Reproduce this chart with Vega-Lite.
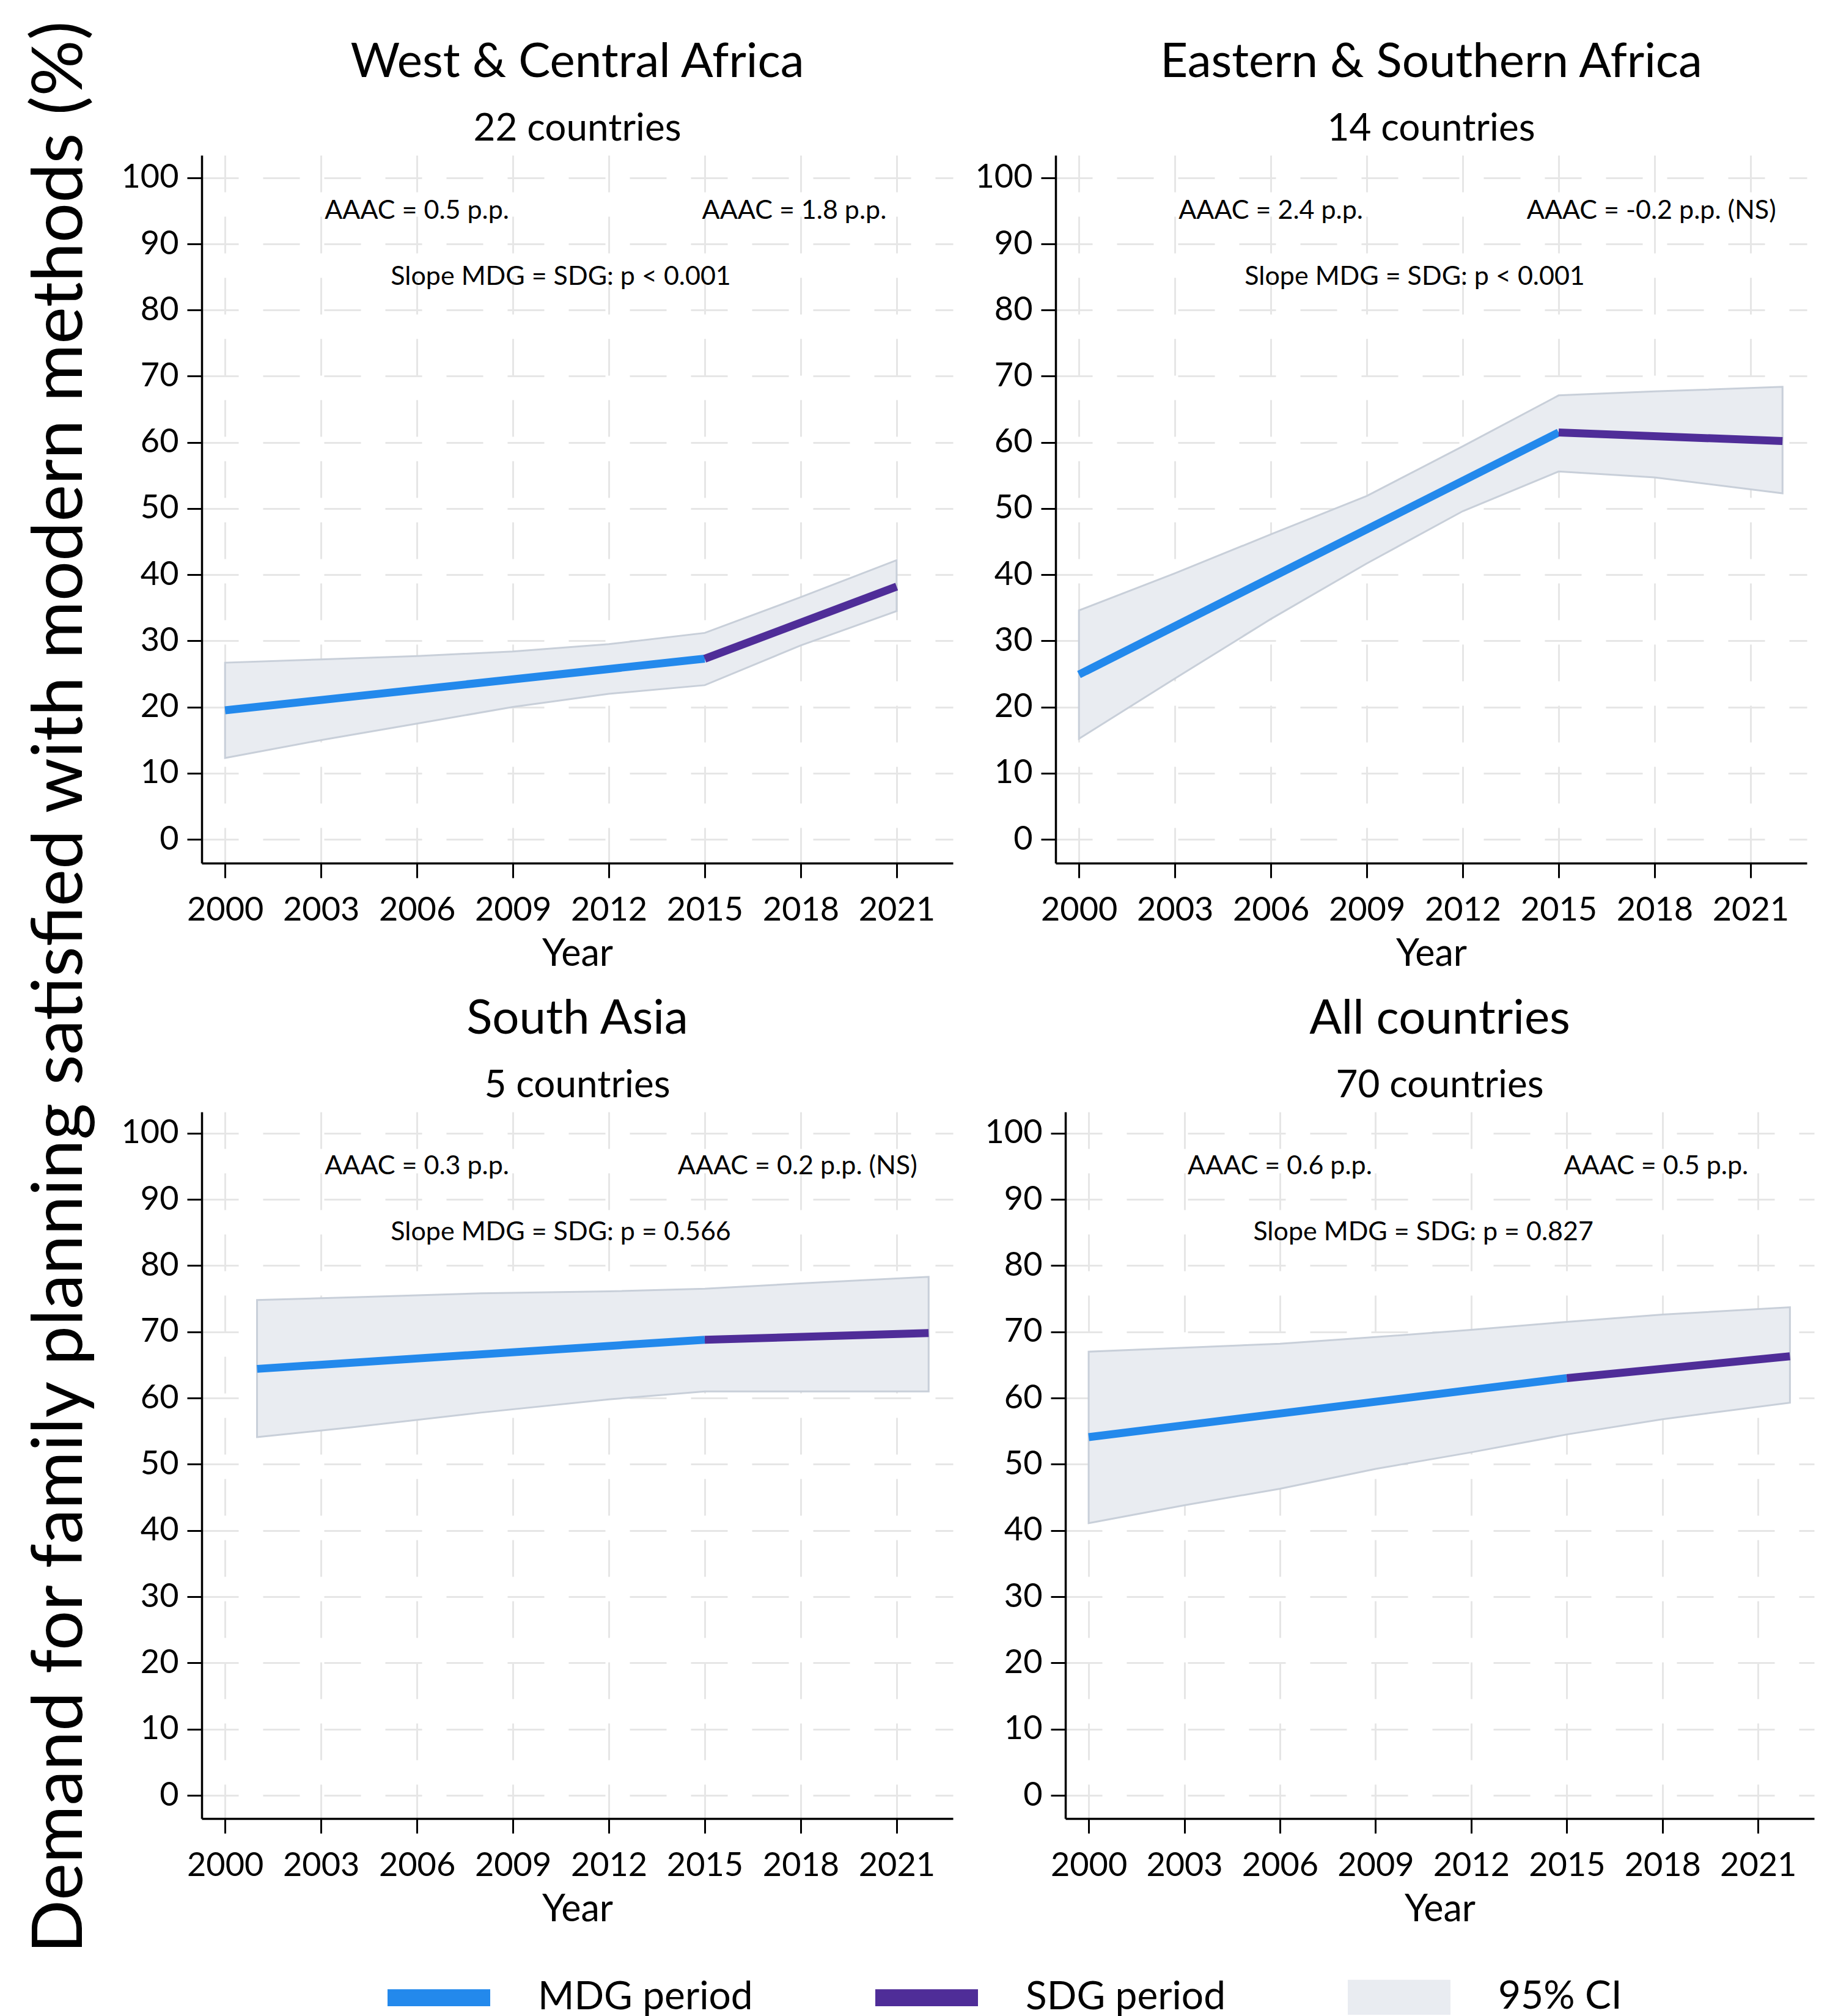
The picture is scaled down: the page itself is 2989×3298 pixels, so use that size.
{
  "$schema": "https://vega.github.io/schema/vega-lite/v6.json",
  "background": "white",
  "padding": {"left": 0, "top": 30, "right": 10, "bottom": 0},
  "datasets": {
    "lines": [
      {"panel": "WCA", "period": "MDG period", "year": 2000, "value": 19.5},
      {"panel": "WCA", "period": "MDG period", "year": 2015, "value": 27.3},
      {"panel": "WCA", "period": "SDG period", "year": 2015, "value": 27.3},
      {"panel": "WCA", "period": "SDG period", "year": 2021, "value": 38.2},
      {"panel": "ESA", "period": "MDG period", "year": 2000, "value": 24.9},
      {"panel": "ESA", "period": "MDG period", "year": 2015, "value": 61.5},
      {"panel": "ESA", "period": "SDG period", "year": 2015, "value": 61.5},
      {"panel": "ESA", "period": "SDG period", "year": 2022, "value": 60.2},
      {"panel": "SA", "period": "MDG period", "year": 2001, "value": 64.4},
      {"panel": "SA", "period": "MDG period", "year": 2015, "value": 68.8},
      {"panel": "SA", "period": "SDG period", "year": 2015, "value": 68.8},
      {"panel": "SA", "period": "SDG period", "year": 2022, "value": 69.8},
      {"panel": "ALL", "period": "MDG period", "year": 2000, "value": 54.1},
      {"panel": "ALL", "period": "MDG period", "year": 2015, "value": 63.0},
      {"panel": "ALL", "period": "SDG period", "year": 2015, "value": 63.0},
      {"panel": "ALL", "period": "SDG period", "year": 2022, "value": 66.3}
    ],
    "ci": [
      {"panel": "WCA", "band": "95% CI", "year": 2000, "lo": 12.3, "hi": 26.7},
      {"panel": "WCA", "band": "95% CI", "year": 2003, "lo": 15.0, "hi": 27.2},
      {"panel": "WCA", "band": "95% CI", "year": 2006, "lo": 17.5, "hi": 27.7},
      {"panel": "WCA", "band": "95% CI", "year": 2009, "lo": 20.0, "hi": 28.4},
      {"panel": "WCA", "band": "95% CI", "year": 2012, "lo": 22.0, "hi": 29.5},
      {"panel": "WCA", "band": "95% CI", "year": 2015, "lo": 23.3, "hi": 31.2},
      {"panel": "WCA", "band": "95% CI", "year": 2018, "lo": 29.3, "hi": 36.6},
      {"panel": "WCA", "band": "95% CI", "year": 2021, "lo": 34.5, "hi": 42.2},
      {"panel": "ESA", "band": "95% CI", "year": 2000, "lo": 15.2, "hi": 34.6},
      {"panel": "ESA", "band": "95% CI", "year": 2003, "lo": 24.3, "hi": 40.2},
      {"panel": "ESA", "band": "95% CI", "year": 2006, "lo": 33.3, "hi": 46.1},
      {"panel": "ESA", "band": "95% CI", "year": 2009, "lo": 41.7, "hi": 51.9},
      {"panel": "ESA", "band": "95% CI", "year": 2012, "lo": 49.6, "hi": 59.4},
      {"panel": "ESA", "band": "95% CI", "year": 2015, "lo": 55.6, "hi": 67.1},
      {"panel": "ESA", "band": "95% CI", "year": 2018, "lo": 54.7, "hi": 67.7},
      {"panel": "ESA", "band": "95% CI", "year": 2022, "lo": 52.3, "hi": 68.4},
      {"panel": "SA", "band": "95% CI", "year": 2001, "lo": 54.1, "hi": 74.8},
      {"panel": "SA", "band": "95% CI", "year": 2004, "lo": 55.6, "hi": 75.2},
      {"panel": "SA", "band": "95% CI", "year": 2008, "lo": 57.8, "hi": 75.8},
      {"panel": "SA", "band": "95% CI", "year": 2012, "lo": 59.8, "hi": 76.1},
      {"panel": "SA", "band": "95% CI", "year": 2015, "lo": 61.0, "hi": 76.5},
      {"panel": "SA", "band": "95% CI", "year": 2018, "lo": 61.0, "hi": 77.3},
      {"panel": "SA", "band": "95% CI", "year": 2022, "lo": 61.0, "hi": 78.3},
      {"panel": "ALL", "band": "95% CI", "year": 2000, "lo": 41.1, "hi": 67.0},
      {"panel": "ALL", "band": "95% CI", "year": 2003, "lo": 43.8, "hi": 67.6},
      {"panel": "ALL", "band": "95% CI", "year": 2006, "lo": 46.3, "hi": 68.2},
      {"panel": "ALL", "band": "95% CI", "year": 2009, "lo": 49.3, "hi": 69.2},
      {"panel": "ALL", "band": "95% CI", "year": 2012, "lo": 51.8, "hi": 70.3},
      {"panel": "ALL", "band": "95% CI", "year": 2015, "lo": 54.5, "hi": 71.5},
      {"panel": "ALL", "band": "95% CI", "year": 2018, "lo": 56.8, "hi": 72.6},
      {"panel": "ALL", "band": "95% CI", "year": 2022, "lo": 59.3, "hi": 73.7}
    ],
    "notes": [
      {"panel": "WCA", "year": 2006, "ny": 95, "label": "AAAC = 0.5 p.p."},
      {"panel": "WCA", "year": 2017.8, "ny": 95, "label": "AAAC = 1.8 p.p."},
      {"panel": "WCA", "year": 2010.5, "ny": 85, "label": "Slope MDG = SDG: p < 0.001"},
      {"panel": "ESA", "year": 2006, "ny": 95, "label": "AAAC = 2.4 p.p."},
      {"panel": "ESA", "year": 2017.9, "ny": 95, "label": "AAAC = -0.2 p.p. (NS)"},
      {"panel": "ESA", "year": 2010.5, "ny": 85, "label": "Slope MDG = SDG: p < 0.001"},
      {"panel": "SA", "year": 2006, "ny": 95, "label": "AAAC = 0.3 p.p."},
      {"panel": "SA", "year": 2017.9, "ny": 95, "label": "AAAC = 0.2 p.p. (NS)"},
      {"panel": "SA", "year": 2010.5, "ny": 85, "label": "Slope MDG = SDG: p = 0.566"},
      {"panel": "ALL", "year": 2006, "ny": 95, "label": "AAAC = 0.6 p.p."},
      {"panel": "ALL", "year": 2017.8, "ny": 95, "label": "AAAC = 0.5 p.p."},
      {"panel": "ALL", "year": 2010.5, "ny": 85, "label": "Slope MDG = SDG: p = 0.827"}
    ],
    "ytitle": [
      {"t": "Demand for family planning satisfied with modern methods (%)"}
    ]
  },
  "spacing": 0,
  "hconcat": [
    {
      "width": 198,
      "height": 2722,
      "data": {"name": "ytitle"},
      "mark": {"type": "text", "angle": 270, "fontSize": 115, "font": "Lato", "color": "#000"},
      "encoding": {"text": {"field": "t", "type": "nominal"}}
    },
    {
      "spacing": 38,
      "vconcat": [
        {
          "spacing": 36,
          "hconcat": [
            {
              "width": 1229, "height": 1158,
              "title": {"text": "West & Central Africa", "subtitle": "22 countries"},
              "layer": [
                {
                  "data": {"name": "ci"},
                  "transform": [{"filter": "datum.panel === 'WCA'"}],
                  "mark": {"type": "area", "stroke": "#c8cfd9", "strokeWidth": 3, "opacity": 1},
                  "encoding": {
                    "x": {"field": "year", "type": "quantitative", "scale": {"domain": [1999.27, 2022.76], "nice": false, "zero": false}, "axis": {"values": [2000, 2003, 2006, 2009, 2012, 2015, 2018, 2021], "format": "d", "title": "Year"}},
                    "y": {"field": "lo", "type": "quantitative", "scale": {"domain": [-3.6, 103.4], "nice": false, "zero": false}, "axis": {"values": [0, 10, 20, 30, 40, 50, 60, 70, 80, 90, 100], "title": null}},
                    "y2": {"field": "hi"},
                    "color": {
                      "field": "band", "type": "nominal",
                      "scale": {"domain": ["MDG period", "SDG period", "95% CI"], "range": ["#2389ec", "#4f2d98", "#e9ecf1"]},
                      "legend": {
                        "title": " ", "titleOrient": "left", "titlePadding": 320, "titleFontSize": 10,
                        "orient": "bottom", "direction": "horizontal",
                        "symbolType": {"expr": "datum.value === '95% CI' ? 'M-1,-0.33H1V0.33H-1Z' : 'M-1,-0.15H1V0.15H-1Z'"},
                        "symbolSize": 27225,
                        "symbolStrokeColor": {"expr": "datum.value === '95% CI' ? '#c8cfd9' : 'transparent'"},
                        "symbolStrokeWidth": 3,
                        "labelFontSize": 64, "labelOffset": 78, "labelColor": "#000", "labelFont": "Lato", "labelLimit": 800,
                        "columnPadding": 195, "offset": -17
                      }
                    }
                  }
                },
                {
                  "data": {"name": "lines"},
                  "transform": [{"filter": "datum.panel === 'WCA'"}],
                  "mark": {"type": "line", "strokeWidth": 13},
                  "encoding": {
                    "x": {"field": "year", "type": "quantitative"},
                    "y": {"field": "value", "type": "quantitative"},
                    "color": {"field": "period", "type": "nominal"}
                  }
                },
                {
                  "data": {"name": "notes"},
                  "transform": [{"filter": "datum.panel === 'WCA'"}],
                  "mark": {"type": "text", "fontSize": 43, "font": "Lato", "color": "#000"},
                  "encoding": {
                    "x": {"field": "year", "type": "quantitative"},
                    "y": {"field": "ny", "type": "quantitative"},
                    "text": {"field": "label", "type": "nominal"}
                  }
                }
              ]
            },
            {
              "width": 1229, "height": 1158,
              "title": {"text": "Eastern & Southern Africa", "subtitle": "14 countries"},
              "layer": [
                {
                  "data": {"name": "ci"},
                  "transform": [{"filter": "datum.panel === 'ESA'"}],
                  "mark": {"type": "area", "stroke": "#c8cfd9", "strokeWidth": 3, "opacity": 1},
                  "encoding": {
                    "x": {"field": "year", "type": "quantitative", "scale": {"domain": [1999.27, 2022.76], "nice": false, "zero": false}, "axis": {"values": [2000, 2003, 2006, 2009, 2012, 2015, 2018, 2021], "format": "d", "title": "Year"}},
                    "y": {"field": "lo", "type": "quantitative", "scale": {"domain": [-3.6, 103.4], "nice": false, "zero": false}, "axis": {"values": [0, 10, 20, 30, 40, 50, 60, 70, 80, 90, 100], "title": null}},
                    "y2": {"field": "hi"},
                    "color": {"field": "band", "type": "nominal"}
                  }
                },
                {
                  "data": {"name": "lines"},
                  "transform": [{"filter": "datum.panel === 'ESA'"}],
                  "mark": {"type": "line", "strokeWidth": 13},
                  "encoding": {
                    "x": {"field": "year", "type": "quantitative"},
                    "y": {"field": "value", "type": "quantitative"},
                    "color": {"field": "period", "type": "nominal"}
                  }
                },
                {
                  "data": {"name": "notes"},
                  "transform": [{"filter": "datum.panel === 'ESA'"}],
                  "mark": {"type": "text", "fontSize": 43, "font": "Lato", "color": "#000"},
                  "encoding": {
                    "x": {"field": "year", "type": "quantitative"},
                    "y": {"field": "ny", "type": "quantitative"},
                    "text": {"field": "label", "type": "nominal"}
                  }
                }
              ]
            }
          ]
        },
        {
          "spacing": 52,
          "hconcat": [
            {
              "width": 1229, "height": 1156,
              "title": {"text": "South Asia", "subtitle": "5 countries"},
              "layer": [
                {
                  "data": {"name": "ci"},
                  "transform": [{"filter": "datum.panel === 'SA'"}],
                  "mark": {"type": "area", "stroke": "#c8cfd9", "strokeWidth": 3, "opacity": 1},
                  "encoding": {
                    "x": {"field": "year", "type": "quantitative", "scale": {"domain": [1999.27, 2022.76], "nice": false, "zero": false}, "axis": {"values": [2000, 2003, 2006, 2009, 2012, 2015, 2018, 2021], "format": "d", "title": "Year"}},
                    "y": {"field": "lo", "type": "quantitative", "scale": {"domain": [-3.5, 103.2], "nice": false, "zero": false}, "axis": {"values": [0, 10, 20, 30, 40, 50, 60, 70, 80, 90, 100], "title": null}},
                    "y2": {"field": "hi"},
                    "color": {"field": "band", "type": "nominal"}
                  }
                },
                {
                  "data": {"name": "lines"},
                  "transform": [{"filter": "datum.panel === 'SA'"}],
                  "mark": {"type": "line", "strokeWidth": 13},
                  "encoding": {
                    "x": {"field": "year", "type": "quantitative"},
                    "y": {"field": "value", "type": "quantitative"},
                    "color": {"field": "period", "type": "nominal"}
                  }
                },
                {
                  "data": {"name": "notes"},
                  "transform": [{"filter": "datum.panel === 'SA'"}],
                  "mark": {"type": "text", "fontSize": 43, "font": "Lato", "color": "#000"},
                  "encoding": {
                    "x": {"field": "year", "type": "quantitative"},
                    "y": {"field": "ny", "type": "quantitative"},
                    "text": {"field": "label", "type": "nominal"}
                  }
                }
              ]
            },
            {
              "width": 1225, "height": 1156,
              "title": {"text": "All countries", "subtitle": "70 countries"},
              "layer": [
                {
                  "data": {"name": "ci"},
                  "transform": [{"filter": "datum.panel === 'ALL'"}],
                  "mark": {"type": "area", "stroke": "#c8cfd9", "strokeWidth": 3, "opacity": 1},
                  "encoding": {
                    "x": {"field": "year", "type": "quantitative", "scale": {"domain": [1999.27, 2022.76], "nice": false, "zero": false}, "axis": {"values": [2000, 2003, 2006, 2009, 2012, 2015, 2018, 2021], "format": "d", "title": "Year"}},
                    "y": {"field": "lo", "type": "quantitative", "scale": {"domain": [-3.5, 103.2], "nice": false, "zero": false}, "axis": {"values": [0, 10, 20, 30, 40, 50, 60, 70, 80, 90, 100], "title": null}},
                    "y2": {"field": "hi"},
                    "color": {"field": "band", "type": "nominal"}
                  }
                },
                {
                  "data": {"name": "lines"},
                  "transform": [{"filter": "datum.panel === 'ALL'"}],
                  "mark": {"type": "line", "strokeWidth": 13},
                  "encoding": {
                    "x": {"field": "year", "type": "quantitative"},
                    "y": {"field": "value", "type": "quantitative"},
                    "color": {"field": "period", "type": "nominal"}
                  }
                },
                {
                  "data": {"name": "notes"},
                  "transform": [{"filter": "datum.panel === 'ALL'"}],
                  "mark": {"type": "text", "fontSize": 43, "font": "Lato", "color": "#000"},
                  "encoding": {
                    "x": {"field": "year", "type": "quantitative"},
                    "y": {"field": "ny", "type": "quantitative"},
                    "text": {"field": "label", "type": "nominal"}
                  }
                }
              ]
            }
          ]
        }
      ]
    }
  ],
  "config": {
    "font": "Lato",
    "view": {"stroke": null},
    "axis": {
      "domainColor": "#000", "domainWidth": 3.5,
      "tickColor": "#000", "tickWidth": 3, "tickSize": 24,
      "labelFont": "Lato", "labelFontSize": 54, "labelColor": "#000",
      "titleFont": "Lato", "titleFontSize": 61, "titleFontWeight": "normal", "titleColor": "#000",
      "grid": true, "gridColor": "#e6e6e6", "gridWidth": 3, "gridDash": [60, 40]
    },
    "axisX": {"labelPadding": 26, "titlePadding": 15},
    "axisY": {"labelPadding": 14},
    "title": {
      "font": "Lato", "fontSize": 78, "fontWeight": "normal", "color": "#000",
      "subtitleFont": "Lato", "subtitleFontSize": 62, "subtitleColor": "#000", "subtitlePadding": 39,
      "anchor": "middle", "offset": 12
    },
    "legend": {"layout": {"bottom": {"anchor": "middle", "direction": "horizontal", "margin": 180}}}
  }
}
